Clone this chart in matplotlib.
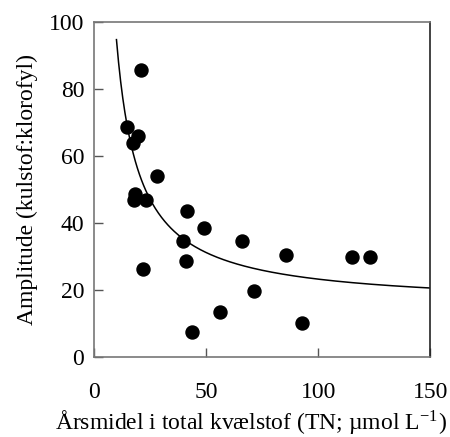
import numpy as np
import matplotlib.pyplot as plt

plt.rcParams['font.family'] = ['Liberation Serif', 'DejaVu Serif']
plt.rcParams['mathtext.fontset'] = 'stix'

# Data
tn = [20.8, 14.7, 19.8, 17.3, 28.1, 18.3, 17.9, 23.1, 41.7, 49.0, 39.7,
      65.9, 85.7, 41.2, 22.0, 71.4, 56.1, 43.9, 115.0, 123.2, 92.7]
amplitude = [85.7, 68.7, 65.8, 64.0, 54.1, 48.7, 46.9, 46.9, 43.5, 38.5, 34.7,
             34.7, 30.5, 28.7, 26.3, 19.7, 13.4, 7.6, 29.9, 29.9, 10.2]

# Tilpasset kurve: y = a + b / x
fit_a = 15.3
fit_b = 794.0
x_fit = np.linspace(10, 150, 300)
y_fit = fit_a + fit_b / x_fit

fig = plt.figure(figsize=(4.5, 4.37), dpi=100)
ax = fig.add_axes([0.209, 0.183, 0.747, 0.767])

ax.plot(x_fit, y_fit, color='black', linewidth=1.1)
ax.scatter(tn, amplitude, s=88, color='black', zorder=3)

ax.set_xlim(0, 150)
ax.set_ylim(0, 100)
ax.set_xticks([0, 50, 100, 150])
ax.set_yticks([0, 20, 40, 60, 80, 100])
ax.tick_params(direction='in', length=6.5, width=1, labelsize=17, color='#555555')
ax.tick_params(axis='y', pad=7)
ax.tick_params(axis='x', pad=18)

for s in ax.spines.values():
    s.set_color('#777777')
    s.set_linewidth(1.2)
ax.spines['right'].set_color('#222222')

ax.set_xlabel('Årsmidel i total kvælstof (TN; µmol L$^{\\mathregular{-1}}$)', fontsize=17)
ax.xaxis.set_label_coords(0.467, -0.155)
ax.set_ylabel('Amplitude (kulstof:klorofyl)', fontsize=17, labelpad=8)

plt.savefig('out.png', dpi=100)
